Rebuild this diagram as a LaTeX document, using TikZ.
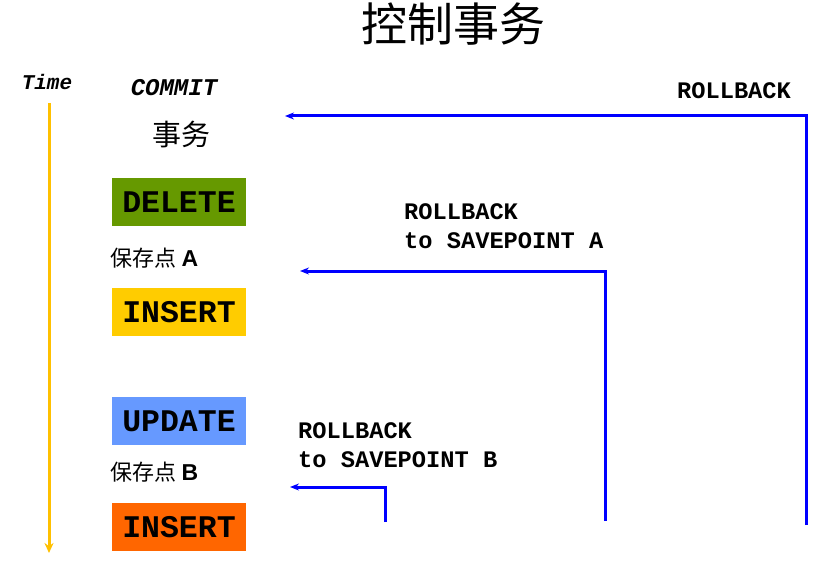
\documentclass[tikz,border=0pt]{standalone}
\usepackage{fontspec}
\setmainfont{Liberation Serif}
\setsansfont{Liberation Sans}
\setmonofont{Liberation Mono}
\newfontfamily\cjk{Noto Sans CJK SC}
\usetikzlibrary{arrows.meta}
\definecolor{cdel}{HTML}{669900}
\definecolor{cins}{HTML}{FFCC00}
\definecolor{cupd}{HTML}{6699FF}
\definecolor{cins2}{HTML}{FF6600}
\definecolor{ctime}{HTML}{FFC000}
\definecolor{cblue}{HTML}{0000FF}
\begin{document}
\begin{tikzpicture}[x=1pt,y=-1pt,
  opbox/.style={draw=none,minimum width=134pt,minimum height=48pt,inner sep=0pt,
    font=\fontsize{31.5}{34}\selectfont\ttfamily\bfseries},
  savept/.style={anchor=west,inner sep=0pt,font=\fontsize{22}{26}\selectfont},
  rb/.style={align=left,anchor=north west,inner sep=0pt,
    font=\fontsize{23.7}{29}\selectfont\ttfamily\bfseries},
  flow/.style={cblue,line width=3pt,-{Stealth[length=9pt,width=7pt]}},
  ]
\useasboundingbox (0,0) rectangle (840,575);
\node[inner sep=0pt,font=\fontsize{46}{48}\selectfont\cjk] (title) at (453,24) {控制事务};
\node[font=\fontsize{21}{24}\selectfont\ttfamily\bfseries\itshape] (time) at (47,82) {Time};
\coordinate (t0) at (49,103);
\coordinate (t1) at (49,553);
\draw[ctime,line width=3pt,-{Stealth[length=10pt,width=9pt]}] (t0) -- (t1);
\node[font=\fontsize{24}{28}\selectfont\ttfamily\bfseries\itshape] (commit) at (174,88) {COMMIT};
\node[font=\fontsize{29}{32}\selectfont\cjk] (tx) at (181,135) {事务};
\node[opbox,fill=cdel] (del) at (179,202) {DELETE};
\node[savept] (spa) at (110,258) {{\cjk 保存点} \fontsize{23}{26}\selectfont\sffamily\bfseries A};
\node[opbox,fill=cins] (ins1) at (179,312) {INSERT};
\node[opbox,fill=cupd] (upd) at (179,421) {UPDATE};
\node[savept] (spb) at (110,472) {{\cjk 保存点} \fontsize{23}{26}\selectfont\sffamily\bfseries B};
\node[opbox,fill=cins2] (ins2) at (179,527) {INSERT};
% rollback all
\node[rb,anchor=center] (rb1) at (734,91) {ROLLBACK};
\coordinate (a0) at (806,525);
\coordinate (a1) at (806,116);
\coordinate (a2) at (285,116);
\draw[flow] (a0) -- (a1) -- (a2);
% rollback to A
\node[rb] (rba) at (404,203) {ROLLBACK\\to SAVEPOINT A};
\coordinate (b0) at (605,521);
\coordinate (b1) at (605,271);
\coordinate (b2) at (300,271);
\draw[flow] (b0) -- (b1) -- (b2);
% rollback to B
\node[rb] (rbb) at (298,422) {ROLLBACK\\to SAVEPOINT B};
\coordinate (c0) at (385,522);
\coordinate (c1) at (385,487);
\coordinate (c2) at (290,487);
\draw[flow] (c0) -- (c1) -- (c2);
\end{tikzpicture}
\end{document}
